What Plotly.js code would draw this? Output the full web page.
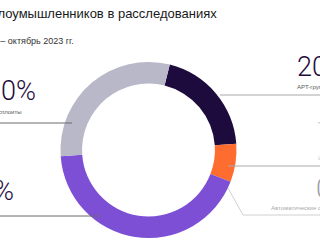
<!DOCTYPE html>
<html><head><meta charset="utf-8">
<script src="https://cdn.plot.ly/plotly-3.0.1.min.js"></script>
<style>html,body{margin:0;padding:0;background:#fff}#c{width:320px;height:240px}</style>
</head><body><div id="c"></div>
<script>
// Data
const categories = ['APT-группы', 'Инструменты', 'Автоматические сканеры', 'ВПО', 'Публичные эксплоиты'];
const shares = [20, 7, 0, 43, 30];
const shareLabels = ['20%', '7%', '0%', '43%', '30%'];
const colors = ['#1e0b3d', '#ff6c30', '#c8c8d4', '#7d4fd4', '#b9b8c9'];
const titleText = 'Инструменты злоумышленников в расследованиях';
const subtitleText = 'Январь – октябрь 2023 гг.';

const W = 320, H = 240;
const px = x => x / W, py = y => 1 - y / H;

function line(x0, y0, x1, y1, color) {
  return {type: 'line', xref: 'paper', yref: 'paper', x0: px(x0), y0: py(y0), x1: px(x1), y1: py(y1),
    line: {color: color, width: 1}};
}
function ann(text, x, y, xanchor, size, color, family, weight) {
  return {text: text, xref: 'paper', yref: 'paper', x: px(x), y: py(y), xanchor: xanchor, yanchor: 'middle',
    showarrow: false, borderpad: 0,
    font: {size: size, color: color, family: family || 'Roboto, sans-serif', weight: weight || 300}};
}

const trace = {
  type: 'pie', values: shares, labels: categories, sort: false, direction: 'clockwise', rotation: 14,
  hole: 0.755, textinfo: 'none', hoverinfo: 'none', marker: {colors: colors, line: {width: 0}},
  domain: {x: [(148.5 - 88) / W, (148.5 + 88) / W], y: [(90 - 88) / H, (90 + 88) / H]},
  showlegend: false
};

const layout = {
  width: W, height: H, margin: {l: 0, r: 0, t: 0, b: 0}, paper_bgcolor: '#fff',
  showlegend: false,
  shapes: [
    line(220, 95, 320, 95, '#a8a8a8'),
    line(228, 166, 320, 166, '#a8a8a8'),
    line(228, 188, 243, 215, '#d0d0d0'),
    line(243, 215, 320, 215, '#d0d0d0'),
    line(0, 123, 72, 123, '#6a6a6a'),
    line(0, 216, 100, 216, '#6a6a6a')
  ],
  annotations: [
    ann(titleText, 218, 13, 'right', 13, '#1a1a1a', 'Liberation Sans, Arial, sans-serif', 400),
    ann(subtitleText, 75, 41, 'right', 9, '#333', 'Liberation Sans Narrow, Arial Narrow, sans-serif', 400),
    ann(shareLabels[0], 296, 67, 'left', 27, '#1e0b3d'),
    ann(categories[0], 296, 87, 'left', 6, '#555', 'Liberation Sans, sans-serif', 400),
    ann(shareLabels[1], 316, 133, 'left', 27, '#d8d8d8'),
    ann(categories[1], 317, 158, 'left', 6, '#ccc', 'Liberation Sans, sans-serif', 400),
    ann(shareLabels[2], 315, 189, 'left', 27, '#a0a0a8'),
    ann(categories[2], 270, 208, 'left', 6, '#aaa', 'Liberation Sans, sans-serif', 400),
    ann(shareLabels[4], 37, 91, 'right', 27, '#1e0b3d'),
    ann(categories[4], 22, 112, 'right', 6, '#555', 'Liberation Sans, sans-serif', 400),
    ann(shareLabels[3], 15, 191, 'right', 27, '#1e0b3d')
  ]
};
Plotly.newPlot('c', [trace], layout, {staticPlot: true, displayModeBar: false});
</script></body></html>
